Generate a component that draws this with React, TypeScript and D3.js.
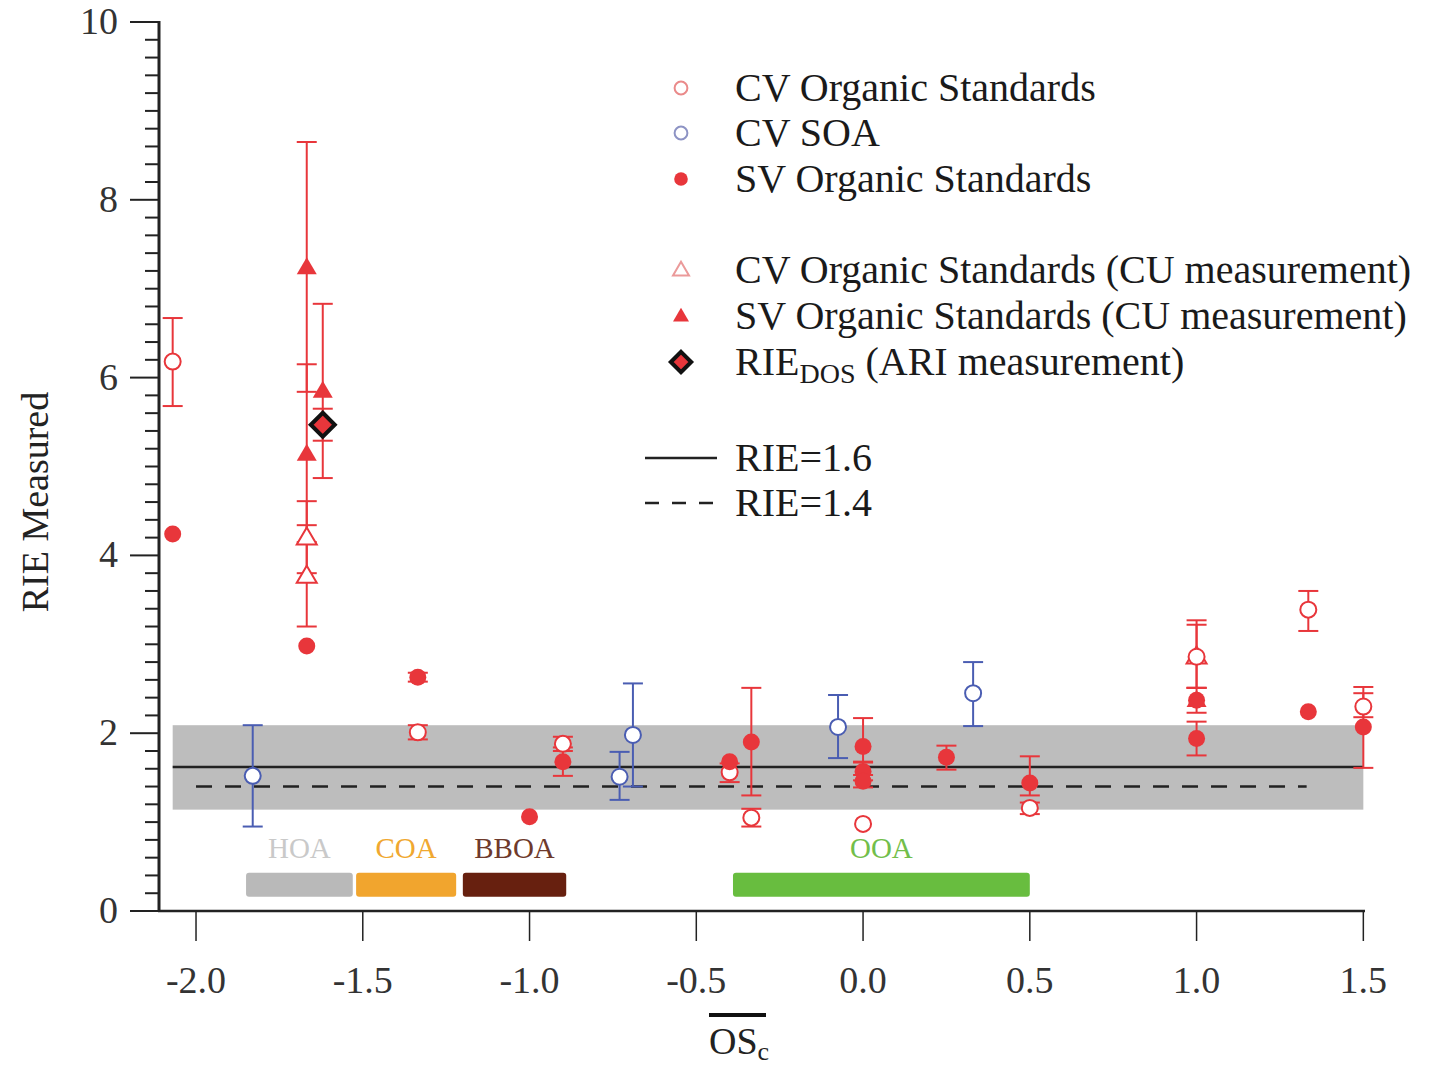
import React from "react";
import * as d3 from "d3";

type Pt = { x: number; y: number; lo?: number; hi?: number };

// values (x = mean carbon oxidation state, y = RIE)
const cvOrganic: Pt[] = [
  { x: -2.07, y: 6.18, lo: 5.68, hi: 6.67 },
  { x: -1.335, y: 2.01, lo: 1.93, hi: 2.09 },
  { x: -0.9, y: 1.88, lo: 1.8, hi: 1.96 },
  { x: -0.4, y: 1.56, lo: 1.45, hi: 1.66 },
  { x: -0.335, y: 1.05, lo: 0.95, hi: 1.15 },
  { x: 0.0, y: 0.98 },
  { x: 0.5, y: 1.16, lo: 1.09, hi: 1.22 },
  { x: 1.0, y: 2.86, lo: 2.51, hi: 3.22 },
  { x: 1.335, y: 3.39, lo: 3.15, hi: 3.6 },
  { x: 1.5, y: 2.3, lo: 2.18, hi: 2.45 },
];

const cvSoa: Pt[] = [
  { x: -1.83, y: 1.52, lo: 0.95, hi: 2.09 },
  { x: -0.73, y: 1.51, lo: 1.25, hi: 1.79 },
  { x: -0.69, y: 1.98, lo: 1.4, hi: 2.56 },
  { x: -0.075, y: 2.07, lo: 1.72, hi: 2.43 },
  { x: 0.33, y: 2.45, lo: 2.08, hi: 2.8 },
];

const svOrganic: Pt[] = [
  { x: -2.07, y: 4.24 },
  { x: -1.668, y: 2.98 },
  { x: -1.335, y: 2.63, lo: 2.58, hi: 2.68 },
  { x: -1.0, y: 1.06 },
  { x: -0.9, y: 1.68, lo: 1.52, hi: 1.84 },
  { x: -0.4, y: 1.68 },
  { x: -0.335, y: 1.9, lo: 1.3, hi: 2.51 },
  { x: 0.0, y: 1.85, lo: 1.68, hi: 2.17 },
  { x: 0.0, y: 1.57, lo: 1.47, hi: 1.67 },
  { x: 0.0, y: 1.46, lo: 1.39, hi: 1.53 },
  { x: 0.25, y: 1.73, lo: 1.59, hi: 1.86 },
  { x: 0.5, y: 1.44, lo: 1.3, hi: 1.74 },
  { x: 1.0, y: 1.94, lo: 1.75, hi: 2.13 },
  { x: 1.0, y: 2.37 },
  { x: 1.335, y: 2.24 },
  { x: 1.5, y: 2.07, lo: 1.61, hi: 2.52 },
];

const cvCu: Pt[] = [
  { x: -1.668, y: 4.2, lo: 3.8, hi: 4.61 },
  { x: -1.668, y: 3.77, lo: 3.2, hi: 4.34 },
  { x: 1.0, y: 2.86, lo: 2.51, hi: 3.27 },
];

const svCu: Pt[] = [
  { x: -1.668, y: 7.24, lo: 5.84, hi: 8.65 },
  { x: -1.668, y: 5.14, lo: 4.15, hi: 6.15 },
  { x: -1.62, y: 5.85, lo: 4.87, hi: 6.83 },
  { x: 1.0, y: 2.37, lo: 2.23, hi: 2.51 },
];

const ariDos: Pt[] = [{ x: -1.62, y: 5.47, lo: 5.29, hi: 5.65 }];

// reference lines / band
const band = { x0: -2.07, x1: 1.5, lo: 1.14, hi: 2.09 };
const rie16 = { x0: -2.07, x1: 1.5, y: 1.62 };
const rie14 = { x0: -2.0, x1: 1.33, y: 1.4 };

// OA factor ranges
const regions = [
  { name: "HOA", x0: -1.85, x1: -1.53, fill: "#b9b9b9", text: "#c9c9c9" },
  { name: "COA", x0: -1.52, x1: -1.22, fill: "#f1a52e", text: "#f0a830" },
  { name: "BBOA", x0: -1.2, x1: -0.89, fill: "#67200f", text: "#6e3a2c" },
  { name: "OOA", x0: -0.39, x1: 0.5, fill: "#68bd3f", text: "#72be4a" },
];
const regionBar = { lo: 0.16, hi: 0.43 };

const xTicks = [-2.0, -1.5, -1.0, -0.5, 0.0, 0.5, 1.0, 1.5];
const yTicks = [0, 2, 4, 6, 8, 10];

const RED = "#e8363b";
const BLUE = "#4a5db2";
const FONT = "'Liberation Serif', 'Times New Roman', serif";

const x = d3.scaleLinear().domain([-2.114, 1.505]).range([158, 1365]);
const y = d3.scaleLinear().domain([0, 10]).range([911, 22]);

type Kind = "openCircle" | "filledCircle" | "openTri" | "filledTri" | "diamond";

function Marker({ kind, cx, cy, color, s = 1 }: { kind: Kind; cx: number; cy: number; color: string; s?: number }) {
  if (kind === "openCircle")
    return <circle cx={cx} cy={cy} r={8 * s} fill="#fff" stroke={color} strokeWidth={2} />;
  if (kind === "filledCircle") return <circle cx={cx} cy={cy} r={8.5 * s} fill={color} />;
  if (kind === "openTri" || kind === "filledTri") {
    const w = 10 * s;
    const h = 17 * s;
    const p = `M${cx},${cy - h * 0.6} L${cx + w},${cy + h * 0.4} L${cx - w},${cy + h * 0.4} Z`;
    return kind === "openTri" ? (
      <path d={p} fill="#fff" stroke={color} strokeWidth={2} />
    ) : (
      <path d={p} fill={color} />
    );
  }
  const r = 12 * s;
  return (
    <path
      d={`M${cx},${cy - r} L${cx + r},${cy} L${cx},${cy + r} L${cx - r},${cy} Z`}
      fill={RED}
      stroke="#111"
      strokeWidth={4}
      strokeLinejoin="miter"
    />
  );
}

function ErrBars({ data, color }: { data: Pt[]; color: string }) {
  return (
    <g stroke={color} strokeWidth={2}>
      {data
        .filter((d) => d.lo !== undefined && d.hi !== undefined)
        .map((d, i) => {
          const px = x(d.x);
          const y0 = y(d.lo as number);
          const y1 = y(d.hi as number);
          return (
            <g key={i}>
              <line x1={px} x2={px} y1={y0} y2={y1} />
              <line x1={px - 10} x2={px + 10} y1={y0} y2={y0} />
              <line x1={px - 10} x2={px + 10} y1={y1} y2={y1} />
            </g>
          );
        })}
    </g>
  );
}

function Series({ data, kind, color }: { data: Pt[]; kind: Kind; color: string }) {
  return (
    <g>
      {data.map((d, i) => (
        <Marker key={i} kind={kind} cx={x(d.x)} cy={y(d.y)} color={color} />
      ))}
    </g>
  );
}

export default function App() {
  const minor = d3.range(0, 10.001, 0.2).filter((v) => Math.abs(v / 2 - Math.round(v / 2)) > 0.01);
  const legendX = 681;
  const textX = 735;
  const legendRows: { kind: Kind; color: string; cy: number; label: React.ReactNode }[] = [
    { kind: "openCircle", color: "#ea8a8a", cy: 88, label: "CV Organic Standards" },
    { kind: "openCircle", color: "#8d93c4", cy: 133, label: "CV SOA" },
    { kind: "filledCircle", color: RED, cy: 179, label: "SV Organic Standards" },
    { kind: "openTri", color: "#eb9a9a", cy: 270, label: "CV Organic Standards (CU measurement)" },
    { kind: "filledTri", color: RED, cy: 316, label: "SV Organic Standards (CU measurement)" },
    {
      kind: "diamond",
      color: RED,
      cy: 362,
      label: (
        <>
          RIE
          <tspan fontSize={28} dy={8}>
            DOS
          </tspan>
          <tspan dy={-8}> (ARI measurement)</tspan>
        </>
      ),
    },
  ];

  return (
    <svg
      width={1440}
      height={1072}
      style={{ position: "absolute", left: 0, top: 0, background: "#fff" }}
      fontFamily={FONT}
    >
      {/* band and reference lines */}
      <rect
        x={x(band.x0)}
        y={y(band.hi)}
        width={x(band.x1) - x(band.x0)}
        height={y(band.lo) - y(band.hi)}
        fill="#bdbdbd"
      />
      <line x1={x(rie16.x0)} x2={x(rie16.x1)} y1={y(rie16.y)} y2={y(rie16.y)} stroke="#222" strokeWidth={2.5} />
      <line
        x1={x(rie14.x0)}
        x2={x(rie14.x1)}
        y1={y(rie14.y)}
        y2={y(rie14.y)}
        stroke="#222"
        strokeWidth={2.5}
        strokeDasharray="16 13"
      />

      {/* OA factor bars */}
      {regions.map((r) => (
        <g key={r.name}>
          <rect
            x={x(r.x0)}
            y={y(regionBar.hi)}
            width={x(r.x1) - x(r.x0)}
            height={y(regionBar.lo) - y(regionBar.hi)}
            rx={3}
            fill={r.fill}
          />
          <text x={(x(r.x0) + x(r.x1)) / 2} y={858} textAnchor="middle" fontSize={29} fill={r.text}>
            {r.name}
          </text>
        </g>
      ))}

      {/* error bars */}
      <ErrBars data={cvSoa} color={BLUE} />
      <ErrBars data={cvOrganic} color={RED} />
      <ErrBars data={svOrganic} color={RED} />
      <ErrBars data={cvCu} color={RED} />
      <ErrBars data={svCu} color={RED} />
      <ErrBars data={ariDos} color={RED} />

      {/* markers */}
      <Series data={cvSoa} kind="openCircle" color={BLUE} />
      <Series data={cvCu} kind="openTri" color={RED} />
      <Series data={cvOrganic} kind="openCircle" color={RED} />
      <Series data={svOrganic} kind="filledCircle" color={RED} />
      <Series data={svCu} kind="filledTri" color={RED} />
      <Series data={ariDos} kind="diamond" color={RED} />

      {/* y axis */}
      <g stroke="#222">
        <line x1={159} x2={159} y1={y(10) - 1} y2={y(0) + 1} strokeWidth={3} />
        {yTicks.map((t) => (
          <line key={t} x1={130} x2={159} y1={y(t)} y2={y(t)} strokeWidth={2} />
        ))}
        {minor.map((t) => (
          <line key={t} x1={145} x2={159} y1={y(t)} y2={y(t)} strokeWidth={2} />
        ))}
      </g>
      {yTicks.map((t) => (
        <text key={t} x={118} y={y(t) + 12} textAnchor="end" fontSize={38} fill="#333">
          {t}
        </text>
      ))}
      <text
        transform={`translate(48, ${y(4.6)}) rotate(-90)`}
        textAnchor="middle"
        fontSize={38}
        fill="#222"
      >
        RIE Measured
      </text>

      {/* x axis */}
      <g stroke="#222">
        <line x1={158} x2={x(1.505)} y1={911} y2={911} strokeWidth={2.5} />
        {xTicks.map((t) => (
          <line key={t} x1={x(t)} x2={x(t)} y1={911} y2={941} strokeWidth={1.5} />
        ))}
      </g>
      {xTicks.map((t) => (
        <text key={t} x={x(t)} y={993} textAnchor="middle" fontSize={38} fill="#333">
          {d3.format(".1f")(t).replace("−", "-")}
        </text>
      ))}
      <line x1={709} x2={766} y1={1015} y2={1015} stroke="#111" strokeWidth={4} />
      <text x={709} y={1054} fontSize={38} fill="#222">
        OS
        <tspan fontSize={26} dy={6}>
          c
        </tspan>
      </text>

      {/* legend */}
      {legendRows.map((r, i) => (
        <g key={i}>
          <Marker kind={r.kind} cx={legendX} cy={r.cy} color={r.color} s={r.kind === "diamond" ? 0.85 : 0.8} />
          <text x={textX} y={r.cy + 13} fontSize={40} fill="#1a1a1a">
            {r.label}
          </text>
        </g>
      ))}
      <line x1={645} x2={717} y1={458} y2={458} stroke="#222" strokeWidth={2.5} />
      <line x1={645} x2={717} y1={503} y2={503} stroke="#222" strokeWidth={2.5} strokeDasharray="14 13" />
      <text x={textX} y={471} fontSize={40} fill="#1a1a1a">
        RIE=1.6
      </text>
      <text x={textX} y={516} fontSize={40} fill="#1a1a1a">
        RIE=1.4
      </text>
    </svg>
  );
}
